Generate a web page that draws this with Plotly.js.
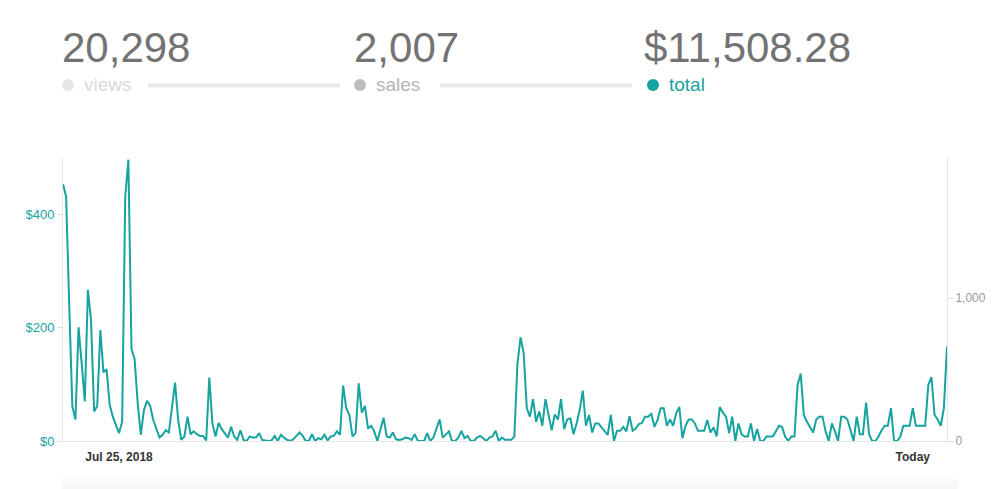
<!DOCTYPE html>
<html>
<head>
<meta charset="utf-8">
<script src="https://cdn.plot.ly/plotly-3.0.1.min.js"></script>
<style>
  html, body { margin: 0; padding: 0; background: #ffffff; }
  #chart { width: 1000px; height: 489px; }
</style>
</head>
<body>
<div id="chart"></div>
<script>
// ---- data ----
const totalDaily = [
  454,432,240,61,38,201,137,70,267,214,52,62,196,121,127,64,43,28,14,34,432,497,163,145,67,11,55,71,62,37,20,6,11,19,15,60,103,37,2,8,43,12,17,12,9,9,1,112,31,8,32,21,14,6,
  25,8,2,19,2,0,8,6,6,14,2,1,0,1,9,0,11,6,2,0,3,9,15,9,0,0,12,0,5,3,11,1,8,9,17,11,98,58,46,8,14,102,50,62,22,27,17,0,19,41,8,6,15,3,
  2,3,6,5,2,12,0,0,0,14,0,6,22,38,6,11,17,0,0,6,18,5,9,0,0,6,9,5,0,6,8,18,0,6,2,2,2,8,137,183,155,58,43,74,34,52,27,74,43,19,47,38,74,21,38,
  40,12,31,55,89,27,46,15,31,31,25,18,11,46,0,18,18,25,17,44,18,22,30,32,43,43,48,25,37,58,58,27,38,27,49,60,5,27,38,38,31,18,18,18,37,15,24,8,60,50,43,14,43,0,31,12,8,8,
  31,0,21,0,0,8,8,8,17,27,25,8,0,8,8,99,119,46,34,25,15,38,43,43,17,0,31,17,0,43,43,38,17,0,43,12,12,68,11,0,0,8,19,27,27,58,0,0,8,27,27,27,58,27,27,27,27,99,113,46,38,27,58,167
];
const xTickIndex = [18, 273];
const xTickLabels = ["Jul 25, 2018", "Today"];
const leftTickVals = [0, 200, 400];
const leftTickLabels = ["$0", "$200", "$400"];
const rightTickVals = [0, 1000];
const rightTickLabels = ["0", "1,000"];
const summaryLabels = ["views", "sales", "total"];
const summaryValues = ["20,298", "2,007", "$11,508.28"];

// ---- styling ----
const TEAL = "#17a3a0";
const W = 1000, H = 489;
const M = { l: 63, r: 53, t: 158, b: 48 };
const PW = W - M.l - M.r, PH = H - M.t - M.b;
const px = x => (x - M.l) / PW;
const py = y => (H - M.b - y) / PH;

const dayIndex = totalDaily.map((_, i) => i);

const traces = [
  {
    x: dayIndex, y: totalDaily, type: "scatter", mode: "lines",
    line: { color: TEAL, width: 2 }, hoverinfo: "y", showlegend: false
  },
  {
    x: [], y: [], type: "scatter", mode: "lines", yaxis: "y2",
    hoverinfo: "skip", showlegend: false
  }
];

const numX = [63, 355, 645];
const dotX = [68, 360, 653];
const labelX = [84, 376, 669];
const dotColors = ["#e6e6e6", "#bdbdbd", TEAL];
const labelColors = ["#d9d9d9", "#b5b5b5", TEAL];

const annotations = [];
const shapes = [];
for (let i = 0; i < 3; i++) {
  annotations.push({
    xref: "paper", yref: "paper", x: px(numX[i] - 3), y: py(47),
    xanchor: "left", yanchor: "middle", showarrow: false,
    text: summaryValues[i],
    font: { family: "Liberation Sans, Arial, sans-serif", size: 42, color: "#737373" }
  });
  annotations.push({
    xref: "paper", yref: "paper", x: px(labelX[i] - 2), y: py(85),
    xanchor: "left", yanchor: "middle", showarrow: false,
    text: summaryLabels[i],
    font: { family: "Liberation Sans, Arial, sans-serif", size: 19, color: labelColors[i] }
  });
  shapes.push({
    type: "circle", xref: "paper", yref: "paper",
    x0: px(dotX[i] - 6), x1: px(dotX[i] + 6), y0: py(91), y1: py(79),
    fillcolor: dotColors[i], line: { width: 0 }
  });
}
// connector lines after views and sales
[[148, 340], [440, 632]].forEach(([a, b]) => {
  shapes.push({
    type: "line", xref: "paper", yref: "paper",
    x0: px(a), x1: px(b), y0: py(85.5), y1: py(85.5),
    line: { color: "#ececec", width: 4 }
  });
});
// faint card edge at bottom
[[474, "#fdfdfd"], [479, "#fafafa"], [484, "#f7f7f7"]].forEach(([y, c]) => {
  shapes.push({
    type: "rect", xref: "paper", yref: "paper",
    x0: px(62), x1: px(958), y0: py(489), y1: py(y),
    fillcolor: c, line: { width: 0 }, layer: "below"
  });
});

const layout = {
  width: W, height: H,
  margin: M,
  paper_bgcolor: "#ffffff", plot_bgcolor: "#ffffff",
  font: { family: "Liberation Sans, Arial, sans-serif" },
  showlegend: false,
  xaxis: {
    range: [0, totalDaily.length - 1],
    tickvals: xTickIndex, ticktext: xTickLabels,
    ticks: "", ticklabelstandoff: 5, showgrid: false, zeroline: false,
    showline: true, linecolor: "#e6e6e6", linewidth: 1,
    tickfont: { size: 12, color: "#333333", weight: "bold" },
    fixedrange: true
  },
  yaxis: {
    range: [0, 500],
    tickvals: leftTickVals, ticktext: leftTickLabels,
    ticks: "outside", ticklen: 5, tickcolor: "#dddddd",
    showgrid: false, zeroline: false,
    showline: true, linecolor: "#e6e6e6", linewidth: 1,
    tickfont: { size: 13, color: TEAL },
    fixedrange: true
  },
  yaxis2: {
    overlaying: "y", side: "right",
    range: [0, 1980],
    tickvals: rightTickVals, ticktext: rightTickLabels,
    ticks: "outside", ticklen: 5, tickcolor: "#dddddd",
    showgrid: false, zeroline: false,
    showline: true, linecolor: "#e6e6e6", linewidth: 1,
    tickfont: { size: 12, color: "#999999" },
    fixedrange: true
  },
  annotations: annotations,
  shapes: shapes
};

Plotly.newPlot("chart", traces, layout, { displayModeBar: false, staticPlot: true });
</script>
</body>
</html>
